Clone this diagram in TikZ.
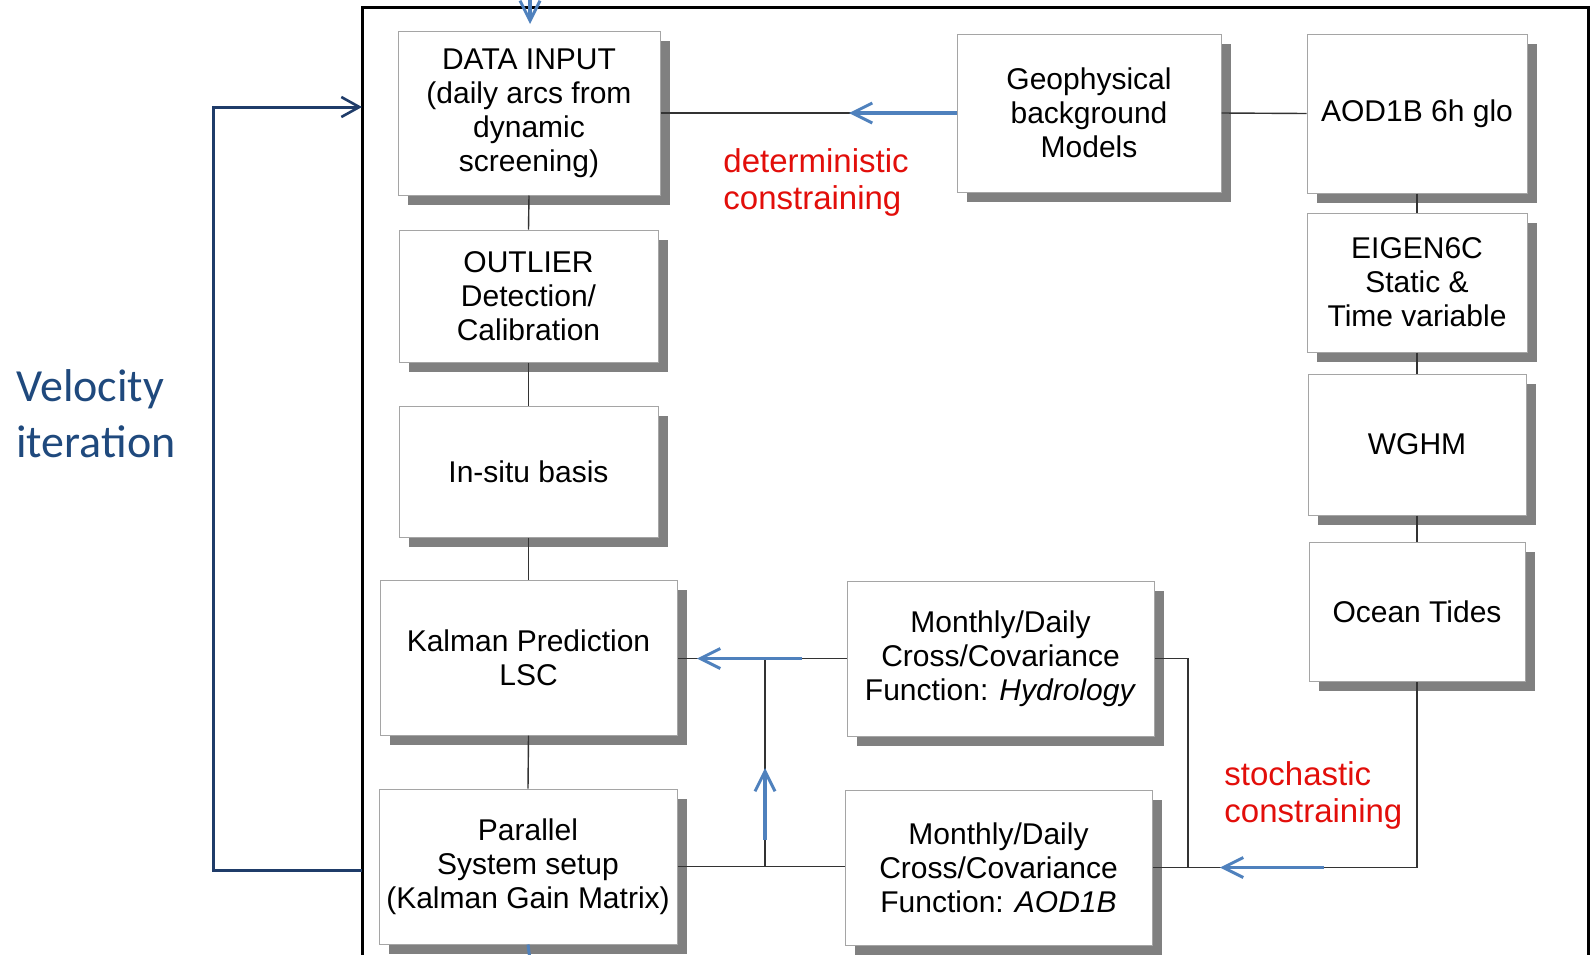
\documentclass[tikz,border=0pt]{standalone}
\usepackage{fontspec}
\setmainfont{Liberation Sans}
\newfontfamily\velofont{Carlito}
\usetikzlibrary{arrows.meta}
\usetikzlibrary{shadows}
\definecolor{boxgray}{RGB}{165,165,165}
\definecolor{shadowgray}{RGB}{128,128,128}
\definecolor{flowblue}{RGB}{79,129,189}
\definecolor{loopblue}{RGB}{31,60,105}
\definecolor{veloblue}{RGB}{31,73,125}
\definecolor{labelred}{RGB}{226,14,10}
\tikzset{
        % Process boxes
        box_step/.style={rectangle, draw=boxgray, fill=white, line width=0.5pt, align=center, inner sep=0pt,
            font=\fontsize{15pt}{17pt}\selectfont,
            drop shadow={shadow xshift=5pt, shadow yshift=-5pt, fill=shadowgray, opacity=1}},
        % Thin links between boxes
        link_line/.style={draw=black!80, line width=0.7pt},
        % Blue flow arrows
        flow_arrow/.style={draw=flowblue, line width=1.75pt, -{Straight Barb[length=10pt, width=10pt, line width=1.5pt]}},
        % Outer frame
        frame_line/.style={draw=black, line width=1.5pt},
        % Iteration loop
        loop_arrow/.style={draw=loopblue, line width=1.5pt, -{Straight Barb[length=9pt, width=10pt, line width=1.3pt]}},
        % Red labels
        label_red/.style={align=left, inner sep=0pt, anchor=north west, text=labelred, font=\fontsize{16.5pt}{18.5pt}\selectfont}
}
\begin{document}
\begin{tikzpicture}[x=0.5pt, y=-0.5pt]
            \useasboundingbox (0,0) rectangle (1591,954);
            % frame
            \coordinate (frame_nw) at (362,7);
            \coordinate (frame_se) at (1588,970);
            \draw[frame_line] (frame_nw) rectangle (frame_se);

            % left column
            \node[box_step, minimum width=131pt, minimum height=82pt] (input) at (529,113) {DATA INPUT\\(daily arcs from\\dynamic\\screening)};
            \node[box_step, minimum width=129.5pt, minimum height=66pt] (outlier) at (528.5,296) {OUTLIER\\Detection/\\Calibration};
            \node[box_step, minimum width=129.5pt, minimum height=65.5pt] (insitu) at (528.5,471.5) {In-situ basis};
            \node[box_step, minimum width=148.5pt, minimum height=77.5pt] (kalman) at (528.5,657.5) {Kalman Prediction\\LSC};
            \node[box_step, minimum width=149pt, minimum height=77.5pt] (parallel) at (528,866.5) {Parallel\\System setup\\(Kalman Gain Matrix)};

            % models
            \node[box_step, minimum width=132pt, minimum height=79pt] (geo) at (1089,113) {Geophysical\\background\\Models};
            \node[box_step, minimum width=110pt, minimum height=79.5pt] (aod) at (1417,113.5) {AOD1B 6h glo};
            \node[box_step, minimum width=110pt, minimum height=69.5pt] (eigen) at (1417,282.5) {EIGEN6C\\Static \&\\Time variable};
            \node[box_step, minimum width=109pt, minimum height=70.5pt] (wghm) at (1417,444.5) {WGHM};
            \node[box_step, minimum width=108pt, minimum height=69.5pt] (tides) at (1417,611.5) {Ocean Tides};

            % covariance functions
            \node[box_step, minimum width=153.5pt, minimum height=77.5pt] (hydro) at (1000.5,658.5) {Monthly/Daily\\Cross/Covariance\\Function: \textit{Hydrology}};
            \node[box_step, minimum width=153.5pt, minimum height=77.5pt] (aodfun) at (998.5,867.5) {Monthly/Daily\\Cross/Covariance\\Function: \textit{AOD1B}};

            % links
            \draw[link_line] (input.south) -- (outlier.north);
            \draw[link_line] (outlier.south) -- (insitu.north);
            \draw[link_line] (insitu.south) -- (kalman.north);
            \draw[link_line] (kalman.south) -- (parallel.north);
            \draw[link_line] (input.east) -- (geo.west);
            \draw[link_line] (geo.east) -- (aod.west);
            \draw[link_line] (aod.south) -- (eigen.north);
            \draw[link_line] (eigen.south) -- (wghm.north);
            \draw[link_line] (wghm.south) -- (tides.north);
            \coordinate (j_hyd) at (765,658.5);
            \coordinate (j_par) at (765,867);
            \coordinate (j_tide) at (1188,867.5);
            \draw[link_line] (hydro.west) -- (hydro.west -| kalman.east);
            \draw[link_line] (j_hyd) -- (j_par);
            \draw[link_line] (parallel.east) -- (parallel.east -| aodfun.west);
            \draw[link_line] (aodfun.east) -- (aodfun.east -| tides.south) -- (tides.south);
            \draw[link_line] (hydro.east) -- (hydro.east -| j_tide) -- (j_tide);

            % blue flow arrows
            \coordinate (in_top) at (530,-4);
            \coordinate (in_tip) at (530,24);
            \coordinate (det_tip) at (849,113);
            \coordinate (hyd_from) at (802,658.5);
            \coordinate (hyd_to) at (697,658.5);
            \coordinate (up_from) at (765,840);
            \coordinate (up_to) at (765,768);
            \coordinate (sto_from) at (1324,867.5);
            \coordinate (sto_to) at (1220,867.5);
            \coordinate (out_bottom) at (530,960);
            \draw[flow_arrow] (in_top) -- (in_tip);
            \draw[flow_arrow] (geo.west) -- (det_tip);
            \draw[flow_arrow] (hyd_from) -- (hyd_to);
            \draw[flow_arrow] (up_from) -- (up_to);
            \draw[flow_arrow] (sto_from) -- (sto_to);
            \draw[draw=flowblue, line width=1.5pt] (parallel.south) -- (out_bottom);

            % labels
            \node[label_red] (det) at (723,148) {deterministic\\constraining};
            \node[label_red] (sto) at (1224,761) {stochastic\\constraining};

            % velocity iteration loop
            \coordinate (loop_out) at (362,870);
            \coordinate (loop_in) at (362,107);
            \draw[loop_arrow] (loop_out) -- (213,870) -- (213,107) -- (loop_in);
            \node[align=left, inner sep=0pt, anchor=north west, text=veloblue, font=\velofont\fontsize{23pt}{28pt}\selectfont] (velo) at (16,369) {Velocity\\iteration};
        \end{tikzpicture}
\end{document}
